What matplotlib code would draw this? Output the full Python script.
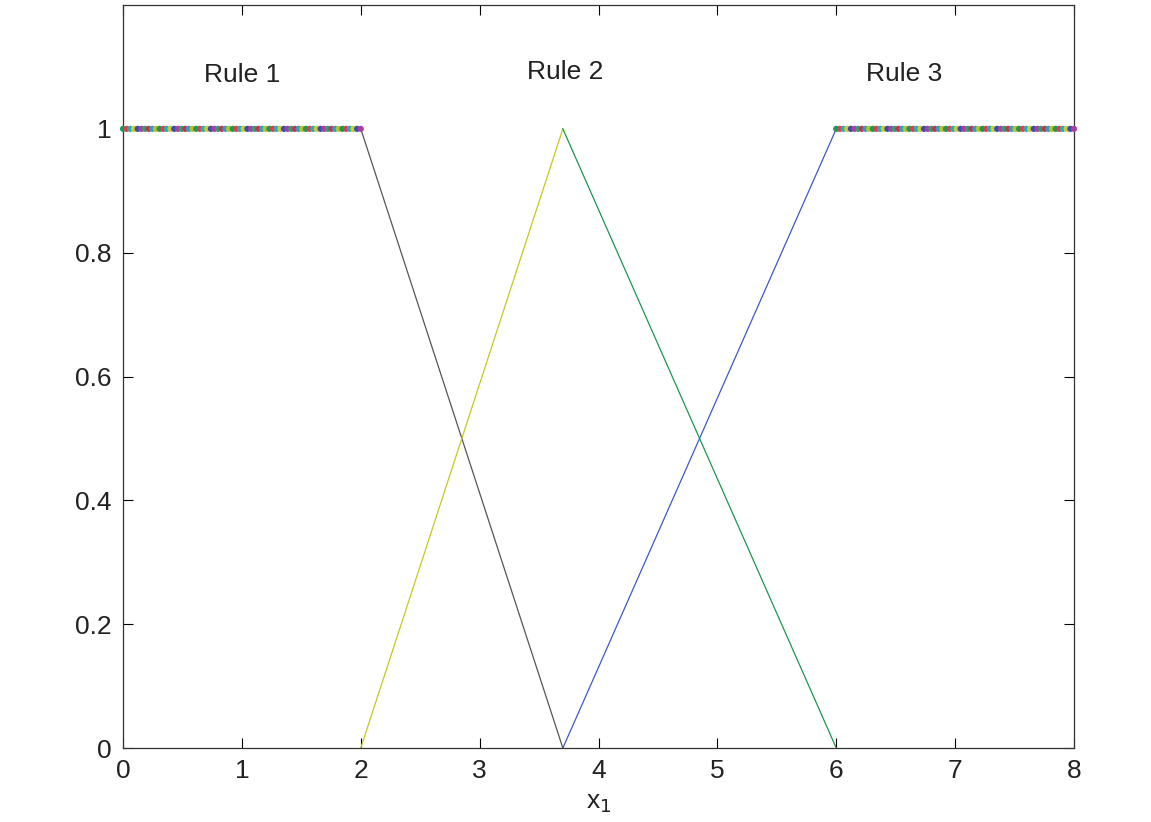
import numpy as np
import matplotlib
matplotlib.use("Agg")
import matplotlib.pyplot as plt

plt.rcParams['font.family'] = ['Liberation Sans', 'DejaVu Sans']

# Membership functions (x breakpoints, y values)
rule1_x = [0, 2, 3.7]
rule1_y = [1, 1, 0]
rule2_up_x = [2, 3.7]
rule2_up_y = [0, 1]
rule2_down_x = [3.7, 6]
rule2_down_y = [1, 0]
rule3_x = [3.7, 6, 8]
rule3_y = [0, 1, 1]

# sampled points drawn on the saturated parts
flat_left_x = np.linspace(0, 2, 66)
flat_right_x = np.linspace(6, 8, 66)
dot_colors = ['#1a9a5a', '#e03c50', '#20b0b0', '#d8c830', '#3050b8', '#b03c9c',
              '#30a070', '#c83250', '#2aa0c0', '#c0c020']

rule_labels = ['Rule 1', 'Rule 2', 'Rule 3']
rule_label_x = [1.0, 3.72, 6.57]
rule_label_y = [1.087, 1.092, 1.089]

xticks = [0, 1, 2, 3, 4, 5, 6, 7, 8]
yticks = [0, 0.2, 0.4, 0.6, 0.8, 1]
ytick_labels = ['0', '0.2', '0.4', '0.6', '0.8', '1']

fig = plt.figure(figsize=(11.51, 8.22), dpi=100)
ax = fig.add_axes([0.1069, 0.0900, 0.8262, 0.9039])

ax.plot(rule1_x, rule1_y, color='#555555', lw=0.9)
ax.plot(rule2_up_x, rule2_up_y, color='#c8c81e', lw=0.9)
ax.plot(rule2_down_x, rule2_down_y, color='#1e9650', lw=0.9)
ax.plot(rule3_x, rule3_y, color='#3c5ac8', lw=0.9)

for xs in (flat_left_x, flat_right_x):
    cols = [dot_colors[i % len(dot_colors)] for i in range(len(xs))]
    ax.scatter(xs, np.ones_like(xs), s=20, c=cols, edgecolors='none', zorder=3, clip_on=False)

for lab, lx, ly in zip(rule_labels, rule_label_x, rule_label_y):
    ax.text(lx, ly, lab, ha='center', va='center', fontsize=19, color='#222222')

ax.set_xlim(0, 8)
ax.set_ylim(0, 1.2)
ax.set_xticks(xticks)
ax.set_xticklabels([str(t) for t in xticks])
ax.set_yticks(yticks)
ax.set_yticklabels(ytick_labels)
ax.tick_params(direction='in', length=7, width=0.8, top=True, right=True,
               labelsize=19, pad=8, labelcolor='#222222')
for sp in ax.spines.values():
    sp.set_linewidth(0.9)
    sp.set_color('#333333')
ax.set_xlabel(r'x$_1$', fontsize=19, labelpad=6, color='#222222')

fig.savefig('out.png', dpi=100)
